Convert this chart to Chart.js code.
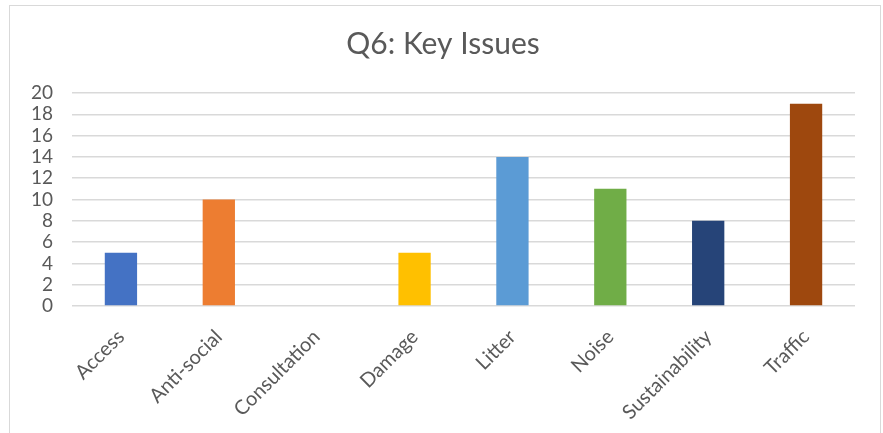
<!DOCTYPE html>
<html lang="en">
<head>
    <meta charset="UTF-8" />
    <title>Q6: Key Issues</title>
    <script src="https://cdn.jsdelivr.net/npm/chart.js"></script>
    <style>
        body {
            margin: 0;
            padding: 0;
            background: #ffffff;
            font-family: "Lato", sans-serif;
        }

        .frame {
            position: absolute;
            left: 9px;
            top: 5px;
            width: 870px;
            height: 440px;
            border: 1px solid #d9d9d9;
            background: #ffffff;
        }

        canvas {
            display: block;
        }
    </style>
</head>
<body>
    <div class="frame">
        <canvas id="myChart" width="870" height="427"></canvas>
    </div>

    <script>
        // Chart data
        const categories = ["Access", "Anti-social", "Consultation", "Damage", "Litter", "Noise", "Sustainability", "Traffic"];
        const counts = [5, 10, 0, 5, 14, 11, 8, 19];
        const barColours = ["#4472C4", "#ED7D31", "#A5A5A5", "#FFC000", "#5B9BD5", "#70AD47", "#264478", "#9E480E"];
        const yMax = 20;
        const yStep = 2;

        const textGrey = "#595959";

        const ctx = document.getElementById("myChart").getContext("2d");
        const myChart = new Chart(ctx, {
            type: "bar",
            data: {
                labels: categories,
                datasets: [
                    {
                        label: "Q6",
                        data: counts,
                        backgroundColor: barColours,
                        borderWidth: 0,
                        barPercentage: 0.33,
                        categoryPercentage: 1,
                    },
                ],
            },
            options: {
                responsive: false,
                animation: false,
                layout: {
                    padding: { left: 21, right: 25, top: 0, bottom: 0 },
                },
                plugins: {
                    legend: { display: false },
                    tooltip: { enabled: false },
                    title: {
                        display: true,
                        text: "Q6: Key Issues",
                        color: textGrey,
                        font: { family: "Lato", size: 30, weight: "normal" },
                        padding: { top: 20, bottom: 31 },
                    },
                },
                scales: {
                    x: {
                        grid: { display: false },
                        border: { display: false },
                        ticks: {
                            color: textGrey,
                            font: { family: "Lato", size: 20 },
                            minRotation: 45,
                            maxRotation: 45,
                            padding: 11,
                        },
                        afterFit: (scale) => {
                            scale.height = 127;
                        },
                    },
                    y: {
                        min: 0,
                        max: yMax,
                        border: { display: false },
                        grid: {
                            color: "#d9d9d9",
                            lineWidth: 1.5,
                            drawTicks: false,
                        },
                        ticks: {
                            stepSize: yStep,
                            autoSkip: false,
                            color: textGrey,
                            font: { family: "Lato", size: 19 },
                            padding: 19,
                        },
                        afterFit: (scale) => {
                            scale.width = 41;
                        },
                    },
                },
            },
        });
    </script>
</body>
</html>
